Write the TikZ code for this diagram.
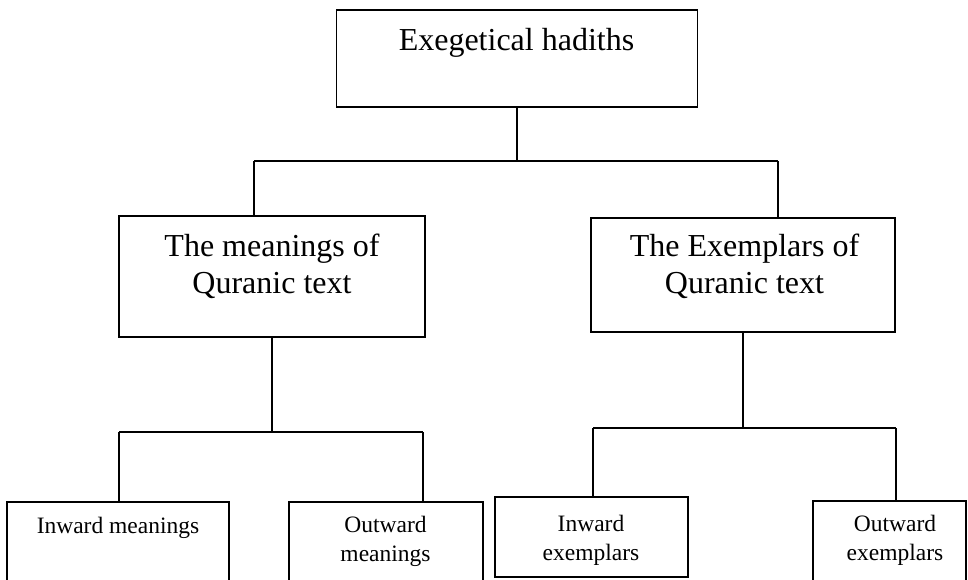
\documentclass[tikz,border=0pt]{standalone}
\usepackage{fontspec}
\setmainfont{Liberation Serif}
\begin{document}
\begin{tikzpicture}[x=1pt,y=-1pt,
  box/.style={draw, line width=1.6pt, rectangle, inner sep=0pt, outer sep=0pt},
  conn/.style={line width=1.6pt},
  bigtxt/.style={font=\fontsize{32}{37}\selectfont, align=center, anchor=base, inner sep=0pt},
  smalltxt/.style={font=\fontsize{23.5}{28.5}\selectfont, align=center, anchor=base, inner sep=0pt}]
\useasboundingbox (0,0) rectangle (968,579);
\clip (0,0) rectangle (968,579);
% boxes
\node[box, minimum width=361pt, minimum height=97pt] (top) at (517,58.5) {};
\node[box, minimum width=306pt, minimum height=121pt] (ml) at (272,276.5) {};
\node[box, minimum width=304pt, minimum height=114pt] (mr) at (743,275) {};
\node[box, minimum width=222pt, minimum height=88pt] (bl) at (118,546) {};
\node[box, minimum width=194pt, minimum height=88pt] (bm) at (386,546) {};
\node[box, minimum width=193pt, minimum height=80pt] (be) at (591.5,537) {};
\node[box, minimum width=153pt, minimum height=89pt] (bo) at (889.5,545.5) {};
% texts (base anchor = baseline of the last line)
\node[bigtxt] (ttop) at (516.5,50) {Exegetical hadiths};
\node[bigtxt] (tml) at (272,293) {The meanings of\\Quranic text};
\node[bigtxt] (tmr) at (744.5,293) {The Exemplars of\\Quranic text};
\node[smalltxt] (tbl) at (118,533) {Inward meanings};
\node[smalltxt] (tbm) at (385.5,561) {Outward\\meanings};
\node[smalltxt] (tbe) at (591,560) {Inward\\exemplars};
\node[smalltxt] (tbo) at (895,560) {Outward\\exemplars};
% junctions
\coordinate (j1L) at (254,161);
\coordinate (j1R) at (778,161);
\coordinate (j2L) at (119,432);
\coordinate (j2R) at (423,432);
\coordinate (j3L) at (593,428);
\coordinate (j3R) at (896,428);
% connectors
\draw[conn] (top.south) -- (top.south |- j1L);
\draw[conn] (j1L) -- (j1R);
\draw[conn] (j1L) -- (j1L |- ml.north);
\draw[conn] (j1R) -- (j1R |- mr.north);
\draw[conn] (ml.south) -- (ml.south |- j2L);
\draw[conn] (j2L) -- (j2R);
\draw[conn] (j2L) -- (j2L |- bl.north);
\draw[conn] (j2R) -- (j2R |- bm.north);
\draw[conn] (mr.south) -- (mr.south |- j3L);
\draw[conn] (j3L) -- (j3R);
\draw[conn] (j3L) -- (j3L |- be.north);
\draw[conn] (j3R) -- (j3R |- bo.north);
\end{tikzpicture}
\end{document}
